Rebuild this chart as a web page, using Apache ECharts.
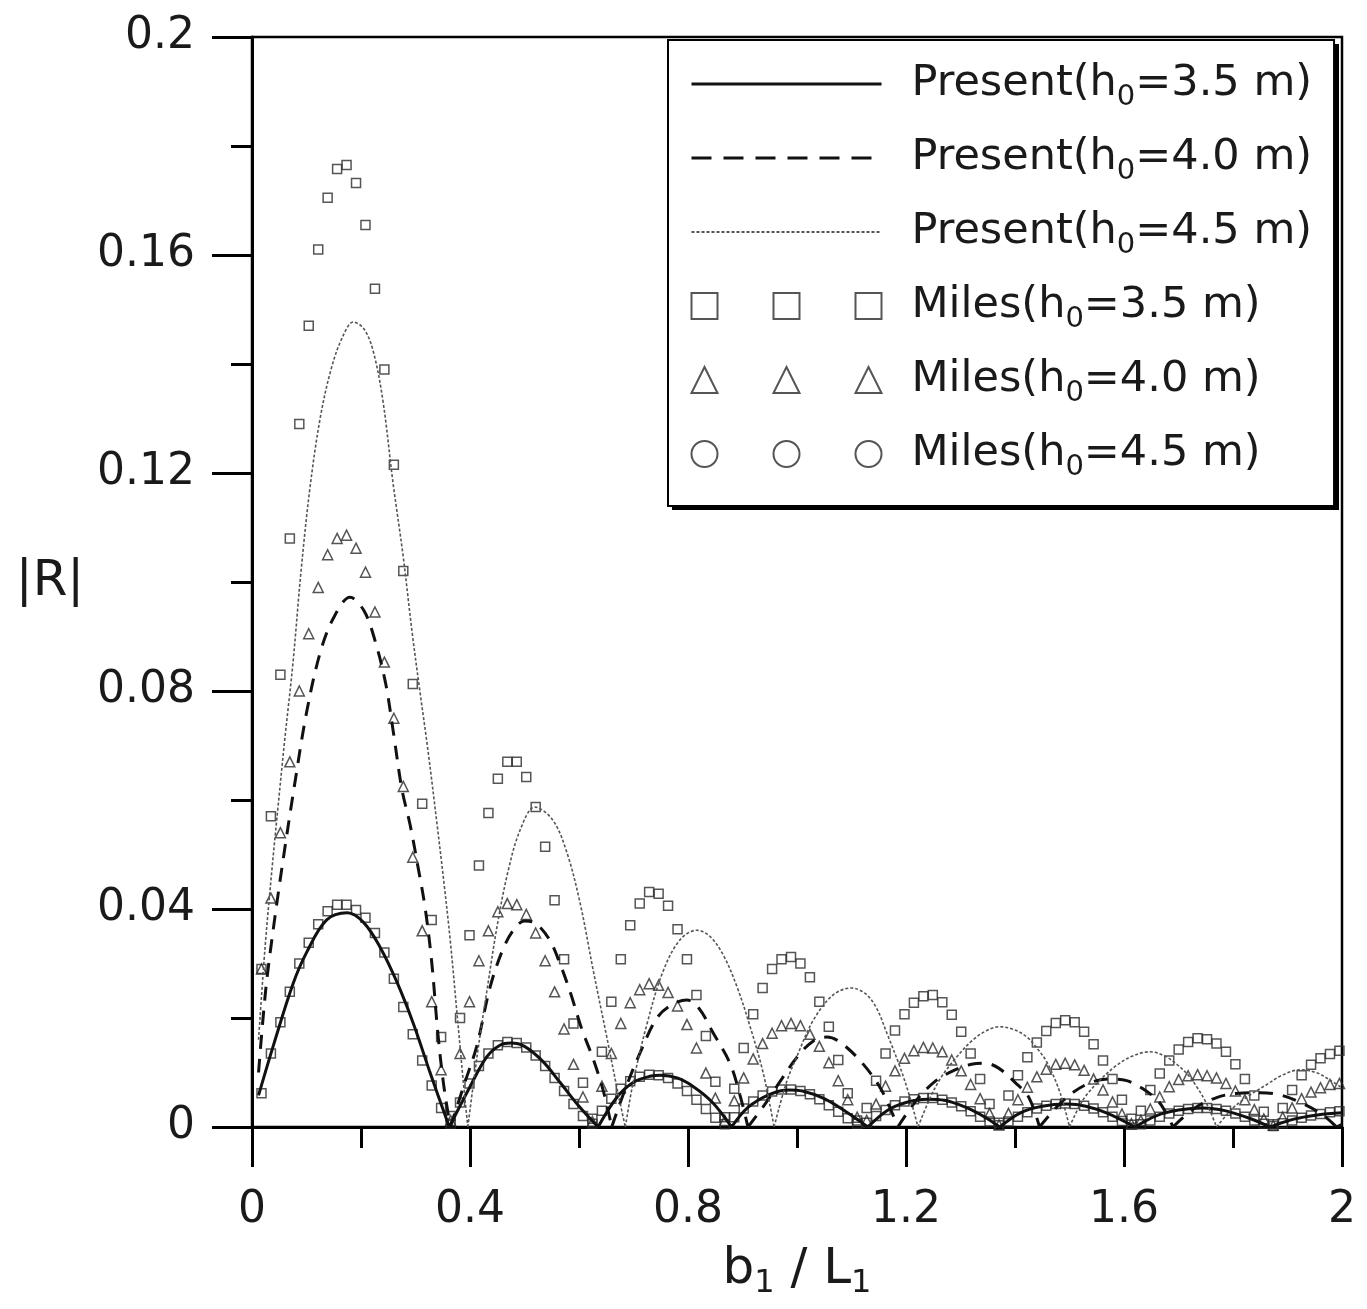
<!DOCTYPE html>
<html><head><meta charset="utf-8">
<script src="https://cdn.jsdelivr.net/npm/echarts@6/dist/echarts.min.js"></script>
<style>html,body{margin:0;padding:0;background:#fff}#c{width:1367px;height:1309px}</style>
</head><body><div id="c"></div>
<script>
// ---- names / labels ----
const seriesNames = ['Present(h0=3.5 m)', 'Present(h0=4.0 m)', 'Present(h0=4.5 m)', 'Miles(h0=3.5 m)', 'Miles(h0=4.0 m)', 'Miles(h0=4.5 m)'];
const legendLabels = ['Present(h{sub|0}=3.5 m)', 'Present(h{sub|0}=4.0 m)', 'Present(h{sub|0}=4.5 m)', 'Miles(h{sub|0}=3.5 m)', 'Miles(h{sub|0}=4.0 m)', 'Miles(h{sub|0}=4.5 m)'];
const xAxisTitle = 'b{sub|1} / L{sub|1}';
const yAxisTitle = '|R|';

// ---- Present curves: [b1/L1, |R|], null breaks at the cusps ----
const present35 = [
  [0.012,0.0058],[0.04,0.0152],[0.075,0.0262],[0.10,0.032],[0.137,0.038],[0.175,0.0393],[0.205,0.0375],[0.235,0.033],[0.265,0.0268],[0.296,0.019],[0.327,0.0099],[0.362,0],[0.362,null],
  [0.362,0],[0.40,0.0074],[0.431,0.0129],[0.455,0.015],[0.475,0.0154],[0.50,0.0148],[0.534,0.012],[0.565,0.0082],[0.60,0.0038],[0.635,0],[0.635,null],
  [0.635,0],[0.67,0.0055],[0.70,0.0082],[0.73,0.0093],[0.75,0.0095],[0.78,0.009],[0.81,0.0074],[0.845,0.0045],[0.88,0],[0.88,null],
  [0.88,0],[0.91,0.0036],[0.95,0.006],[0.985,0.0068],[1.01,0.0066],[1.05,0.0052],[1.09,0.0028],[1.13,0],[1.13,null],
  [1.13,0],[1.165,0.003],[1.20,0.0045],[1.24,0.0051],[1.27,0.0049],[1.31,0.0036],[1.345,0.0018],[1.372,0],[1.372,null],
  [1.372,0],[1.41,0.0026],[1.45,0.0038],[1.495,0.0042],[1.53,0.0038],[1.57,0.0025],[1.62,0],[1.62,null],
  [1.62,0],[1.66,0.0021],[1.70,0.0031],[1.745,0.0035],[1.785,0.003],[1.83,0.0016],[1.868,0],[1.868,null],
  [1.868,0],[1.91,0.0014],[1.955,0.0022],[2.0,0.0026]
];
const present40 = [
  [0.012,0.010],[0.025,0.025],[0.04,0.037],[0.06,0.051],[0.08,0.064],[0.10,0.076],[0.125,0.087],[0.15,0.0935],[0.18,0.0972],[0.205,0.0948],[0.225,0.0895],[0.245,0.0815],[0.26,0.072],[0.275,0.062],[0.29,0.0555],[0.305,0.0475],[0.318,0.040],[0.33,0.030],[0.341,0.0172],[0.352,0.0075],[0.364,0],[0.364,null],
  [0.364,0],[0.39,0.008],[0.412,0.0147],[0.437,0.0257],[0.46,0.0325],[0.48,0.0362],[0.50,0.0378],[0.52,0.0374],[0.545,0.0345],[0.565,0.030],[0.585,0.0244],[0.605,0.018],[0.626,0.0125],[0.645,0.0065],[0.66,0],[0.66,null],
  [0.66,0],[0.685,0.007],[0.712,0.0136],[0.743,0.020],[0.77,0.0224],[0.798,0.0233],[0.82,0.0218],[0.846,0.0173],[0.877,0.0117],[0.895,0.006],[0.91,0],[0.91,null],
  [0.91,0],[0.94,0.004],[0.97,0.0085],[1.0,0.0128],[1.03,0.0158],[1.055,0.0165],[1.08,0.0155],[1.12,0.0117],[1.155,0.0068],[1.185,0],[1.185,null],
  [1.185,0],[1.22,0.005],[1.255,0.0085],[1.29,0.0105],[1.32,0.0115],[1.345,0.0117],[1.37,0.0108],[1.40,0.0082],[1.425,0.0055],[1.445,0],[1.445,null],
  [1.445,0],[1.49,0.005],[1.535,0.008],[1.575,0.0088],[1.605,0.0085],[1.635,0.007],[1.665,0.0045],[1.69,0],[1.69,null],
  [1.69,0],[1.73,0.0035],[1.77,0.0054],[1.81,0.0062],[1.85,0.0063],[1.89,0.0058],[1.93,0.0042],[1.965,0.0022],[1.99,0],[1.99,null],
  [1.99,0],[2.0,0.0005]
];
const present45 = [
  [0.012,0.016],[0.024,0.033],[0.037,0.0477],[0.048,0.059],[0.06,0.071],[0.075,0.085],[0.09,0.102],[0.106,0.117],[0.125,0.130],[0.145,0.139],[0.165,0.1447],[0.186,0.1477],[0.205,0.1465],[0.222,0.1425],[0.24,0.1334],[0.259,0.118],[0.277,0.105],[0.294,0.0906],[0.308,0.080],[0.323,0.069],[0.339,0.056],[0.352,0.045],[0.364,0.034],[0.376,0.021],[0.388,0.008],[0.396,0],[0.396,null],
  [0.396,0],[0.413,0.013],[0.431,0.025],[0.45,0.037],[0.47,0.047],[0.492,0.0545],[0.519,0.0587],[0.552,0.0563],[0.578,0.0503],[0.602,0.0411],[0.626,0.0288],[0.651,0.0165],[0.672,0.006],[0.685,0],[0.685,null],
  [0.685,0],[0.70,0.0085],[0.725,0.019],[0.754,0.0285],[0.785,0.0343],[0.816,0.0361],[0.84,0.035],[0.865,0.0315],[0.89,0.0257],[0.914,0.0184],[0.938,0.0099],[0.958,0],[0.958,null],
  [0.958,0],[0.98,0.008],[1.0,0.013],[1.03,0.0196],[1.066,0.0242],[1.10,0.0255],[1.125,0.0245],[1.145,0.022],[1.165,0.0172],[1.189,0.011],[1.207,0.0055],[1.222,0],[1.222,null],
  [1.222,0],[1.245,0.0055],[1.265,0.0092],[1.29,0.0125],[1.323,0.016],[1.35,0.0178],[1.372,0.0184],[1.40,0.0178],[1.422,0.0165],[1.44,0.0145],[1.459,0.0118],[1.483,0.0062],[1.50,0],[1.50,null],
  [1.50,0],[1.525,0.005],[1.555,0.0085],[1.585,0.0112],[1.615,0.013],[1.648,0.0138],[1.675,0.013],[1.697,0.0115],[1.718,0.0095],[1.734,0.0073],[1.752,0.0042],[1.77,0],[1.77,null],
  [1.77,0],[1.80,0.0035],[1.83,0.0058],[1.862,0.0078],[1.89,0.0095],[1.923,0.0105],[1.955,0.0099],[1.978,0.0086],[2.0,0.0072]
];

// ---- Miles points ----
const milesX = [
  0.0174,0.0347,0.0521,0.0694,0.0868,0.1041,0.1215,0.1388,0.1562,0.1735,
  0.1909,0.2082,0.2256,0.2429,0.2603,0.2776,0.295,0.3123,0.3297,0.347,
  0.3644,0.3817,0.3991,0.4164,0.4338,0.4511,0.4685,0.4858,0.5032,0.5205,
  0.5379,0.5552,0.5726,0.5899,0.6073,0.6246,0.642,0.6593,0.6767,0.694,
  0.7114,0.7287,0.7461,0.7634,0.7808,0.7981,0.8155,0.8328,0.8502,0.8675,
  0.8849,0.9022,0.9196,0.9369,0.9543,0.9716,0.989,1.0063,1.0237,1.041,
  1.0584,1.0757,1.0931,1.1104,1.1278,1.1451,1.1625,1.1798,1.1972,1.2145,
  1.2319,1.2492,1.2666,1.2839,1.3013,1.3186,1.336,1.3533,1.3707,1.388,
  1.4054,1.4227,1.4401,1.4574,1.4748,1.4921,1.5095,1.5268,1.5442,1.5615,
  1.5789,1.5962,1.6136,1.6309,1.6483,1.6656,1.683,1.7003,1.7177,1.735,
  1.7524,1.7697,1.7871,1.8044,1.8218,1.8391,1.8565,1.8738,1.8912,1.9085,
  1.9259,1.9432,1.9606,1.9779,1.9953
];
const miles35Y = [
  0.0062,0.0135,0.0192,0.0248,0.0300,0.0338,0.0372,0.0396,0.0408,0.0408,
  0.0398,0.0384,0.0356,0.0320,0.0272,0.0220,0.0170,0.0122,0.0076,0.0035,
  0.0006,0.0045,0.0080,0.0112,0.0135,0.0150,0.0156,0.0154,0.0146,0.0131,
  0.0112,0.0090,0.0066,0.0042,0.0020,0.0006,0.0030,0.0052,0.0070,0.0084,
  0.0092,0.0096,0.0095,0.0090,0.0080,0.0066,0.0050,0.0033,0.0017,0.0005,
  0.0018,0.0034,0.0047,0.0058,0.0065,0.0069,0.0069,0.0066,0.0060,0.0051,
  0.0040,0.0028,0.0016,0.0006,0.0008,0.0020,0.0031,0.0040,0.0047,0.0051,
  0.0053,0.0053,0.0050,0.0045,0.0038,0.0029,0.0019,0.0010,0.0003,0.0010,
  0.0019,0.0027,0.0034,0.0039,0.0042,0.0043,0.0042,0.0039,0.0034,0.0027,
  0.0019,0.0011,0.0004,0.0005,0.0012,0.0019,0.0025,0.0030,0.0033,0.0035,
  0.0035,0.0033,0.0030,0.0025,0.0019,0.0012,0.0006,0.0002,0.0007,0.0012,
  0.0017,0.0021,0.0024,0.0027,0.0029
];
const miles40Y = [
  0.029,0.042,0.054,0.067,0.080,0.0905,0.099,0.105,0.108,0.1086,
  0.1062,0.1018,0.0945,0.0853,0.075,0.0625,0.0495,0.036,0.023,0.0105,
  0.0012,0.0135,0.023,0.0305,0.036,0.0395,0.041,0.0408,0.039,0.0356,
  0.0305,0.0248,0.018,0.0115,0.0055,0.001,0.0075,0.0135,0.019,0.0228,
  0.0252,0.0263,0.026,0.0247,0.0222,0.0188,0.0145,0.0099,0.0053,0.0012,
  0.0048,0.009,0.0125,0.0153,0.0172,0.0186,0.019,0.0186,0.017,0.0148,
  0.0118,0.0085,0.005,0.0018,0.0012,0.0042,0.0075,0.0103,0.0126,0.014,
  0.0146,0.0145,0.0138,0.0123,0.0103,0.0078,0.0052,0.0025,0.0004,0.0025,
  0.005,0.0073,0.0092,0.0106,0.0115,0.0117,0.0114,0.0104,0.0088,0.0068,
  0.0046,0.0024,0.0006,0.0012,0.0033,0.0055,0.0074,0.0087,0.0094,0.0096,
  0.0094,0.009,0.008,0.0066,0.005,0.0032,0.0015,0.0003,0.0018,0.0035,
  0.0052,0.0064,0.0072,0.0078,0.008
];
const miles45Y = [
  0.029,0.057,0.083,0.108,0.129,0.147,0.161,0.1705,0.1758,0.1765,
  0.1732,0.1655,0.1538,0.139,0.1215,0.102,0.0813,0.0593,0.038,0.0165,
  0.002,0.02,0.0352,0.048,0.0576,0.0639,0.067,0.067,0.0642,0.0587,
  0.0514,0.0416,0.0308,0.019,0.0081,0.0015,0.0138,0.023,0.0308,0.037,
  0.041,0.0431,0.0428,0.0406,0.0363,0.0308,0.0242,0.0167,0.0083,0.0018,
  0.007,0.0145,0.0207,0.0255,0.029,0.0308,0.0312,0.03,0.0275,0.023,
  0.0184,0.0123,0.0062,0.0012,0.0035,0.0085,0.0135,0.0177,0.0207,0.0228,
  0.024,0.0242,0.0229,0.0206,0.0175,0.0135,0.0088,0.0042,0.0008,0.0058,
  0.0095,0.0128,0.0155,0.0176,0.0191,0.0196,0.0192,0.0175,0.0152,0.0122,
  0.0088,0.005,0.0015,0.003,0.0068,0.0098,0.0122,0.0142,0.0156,0.0163,
  0.0161,0.0153,0.0138,0.0115,0.0088,0.0058,0.0028,0.0005,0.0035,0.0068,
  0.0095,0.0114,0.0126,0.0134,0.014
];

// ---- legend icons (three markers per Miles entry) ----
const iconSquares = 'path://M0,0H26V26H0ZM82,0H108V26H82ZM164,0H190V26H164Z';
const iconTriangles = 'path://M13,0L26,26L0,26ZM95,0L108,26L82,26ZM177,0L190,26L164,26Z';
const iconCircles = 'path://M0,13A13,13,0,1,0,26,13A13,13,0,1,0,0,13ZM82,13A13,13,0,1,0,108,13A13,13,0,1,0,82,13ZM164,13A13,13,0,1,0,190,13A13,13,0,1,0,164,13Z';

const FONT = 'DejaVu Sans';
const INK = '#1a1a1a';
const zip = (xs, ys) => xs.map((x, i) => [x, ys[i]]);
const hollow = { color: 'rgba(255,255,255,0)', borderColor: '#2a2a2a', borderWidth: 1.5 };
const legendHollow = { color: 'rgba(255,255,255,0)', borderColor: '#2a2a2a', borderWidth: 2 };
const noMarker = { color: 'rgba(0,0,0,0)', borderColor: 'rgba(0,0,0,0)', borderWidth: 0, opacity: 0 };

const chart = echarts.init(document.getElementById('c'), null, { renderer: 'canvas' });
const axisCommon = {
  type: 'value',
  axisLine: { show: true, onZero: false, lineStyle: { color: '#000', width: 3 } },
  axisTick: { show: true, inside: false, length: 40, lineStyle: { color: '#000', width: 3 } },
  minorTick: { show: true, splitNumber: 2, length: 21, lineStyle: { color: '#000', width: 3 } },
  splitLine: { show: false },
  minorSplitLine: { show: false }
};
chart.setOption({
  animation: false,
  backgroundColor: '#fff',
  grid: { left: 252, right: 25, top: 37, bottom: 182, show: true, borderColor: '#000', borderWidth: 2.5, backgroundColor: 'transparent' },
  graphic: [
    // drop shadow of the legend frame (offset to the lower right)
    { type: 'rect', left: 672, top: 44, shape: { width: 667, height: 466 }, style: { fill: '#000' }, z: 3, silent: true }
  ],
  xAxis: Object.assign({}, axisCommon, {
    min: 0, max: 2, interval: 0.4,
    axisLabel: { fontFamily: FONT, fontSize: 44, color: INK, margin: 62 },
    name: xAxisTitle, nameLocation: 'middle', nameGap: 143,
    nameTextStyle: {
      fontFamily: FONT, fontSize: 50, color: INK, lineHeight: 60, verticalAlign: 'middle', align: 'center',
      rich: { sub: { fontFamily: FONT, fontSize: 32, color: INK, lineHeight: 24, verticalAlign: 'bottom' } }
    }
  }),
  yAxis: Object.assign({}, axisCommon, {
    min: 0, max: 0.2, interval: 0.04,
    axisLabel: { fontFamily: FONT, fontSize: 44, color: INK, margin: 57 },
    name: yAxisTitle, nameLocation: 'middle', nameGap: 202, nameRotate: 0,
    nameTextStyle: { fontFamily: FONT, fontSize: 50, color: INK, align: 'center', verticalAlign: 'middle' }
  }),
  legend: {
    orient: 'vertical', left: 668, top: 40, z: 4,
    padding: [16, 22, 24, 22],
    itemGap: 18, itemWidth: 190, itemHeight: 26,
    symbolKeepAspect: false,
    backgroundColor: '#fff', borderColor: '#000', borderWidth: 2,
    formatter: name => legendLabels[seriesNames.indexOf(name)],
    textStyle: {
      fontFamily: FONT, fontSize: 43, color: INK, lineHeight: 56, padding: [0, 0, 0, 25],
      rich: { sub: { fontFamily: FONT, fontSize: 29, color: INK, lineHeight: 22, verticalAlign: 'bottom' } }
    },
    data: [
      { name: seriesNames[0], itemStyle: noMarker, lineStyle: { width: 3, color: '#111', type: 'solid' } },
      { name: seriesNames[1], itemStyle: noMarker, lineStyle: { width: 3, color: '#111', type: [20, 12] } },
      { name: seriesNames[2], itemStyle: noMarker, lineStyle: { width: 1.8, color: '#555', type: [3, 2] } },
      { name: seriesNames[3], icon: iconSquares, itemStyle: legendHollow },
      { name: seriesNames[4], icon: iconTriangles, itemStyle: legendHollow },
      { name: seriesNames[5], icon: iconCircles, itemStyle: legendHollow }
    ]
  },
  series: [
    { name: seriesNames[0], type: 'line', data: present35, symbol: 'none', showSymbol: false, smooth: 0.35, connectNulls: false, z: 4,
      lineStyle: { color: '#111', width: 3, type: 'solid' }, itemStyle: { color: '#111' } },
    { name: seriesNames[1], type: 'line', data: present40, symbol: 'none', showSymbol: false, smooth: 0.35, connectNulls: false, z: 4,
      lineStyle: { color: '#111', width: 3, type: [14, 10] }, itemStyle: { color: '#111' } },
    { name: seriesNames[2], type: 'line', data: present45, symbol: 'none', showSymbol: false, smooth: 0.35, connectNulls: false, z: 4,
      lineStyle: { color: '#555', width: 1.6, type: [3, 2] }, itemStyle: { color: '#555' } },
    { name: seriesNames[3], type: 'scatter', data: zip(milesX, miles35Y), symbol: 'rect', symbolSize: 9, z: 3, itemStyle: hollow },
    { name: seriesNames[4], type: 'scatter', data: zip(milesX, miles40Y), symbol: 'triangle', symbolSize: 10, z: 3, itemStyle: hollow },
    { name: seriesNames[5], type: 'scatter', data: zip(milesX, miles45Y), symbol: 'rect', symbolSize: 9, z: 3, itemStyle: hollow }
  ]
});
</script>
</body></html>
